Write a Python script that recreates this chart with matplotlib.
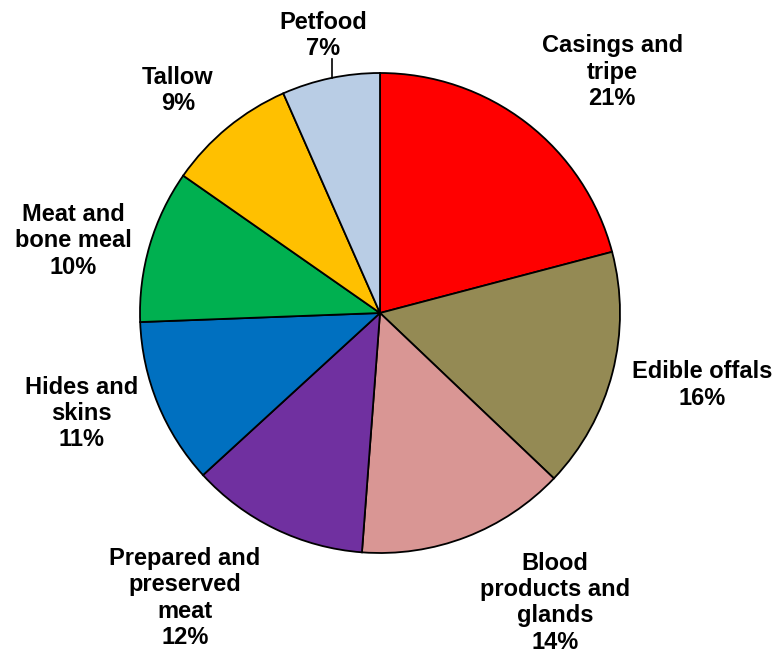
import matplotlib
matplotlib.use('Agg')
import matplotlib.pyplot as plt

plt.rcParams['font.family'] = ['Liberation Sans', 'DejaVu Sans']

# slices, clockwise from 12 o'clock
labels = ['Casings and\ntripe', 'Edible offals', 'Blood\nproducts and\nglands',
          'Prepared and\npreserved\nmeat', 'Hides and\nskins', 'Meat and\nbone meal',
          'Tallow', 'Petfood']
shares = [20.9, 16.2, 14.1, 12.0, 11.2, 10.3, 8.7, 6.6]
colors = ['#FF0000', '#948A54', '#D99694', '#7030A0', '#0070C0', '#00B050',
          '#FFC000', '#B9CDE5']

# label centres, in units of the pie radius
label_pos = [(0.967, 1.004), (1.342, -0.30), (0.729, -1.208), (-0.8125, -1.1875),
             (-1.242, -0.417), (-1.279, 0.30), (-0.842, 0.929), (-0.2375, 1.158)]

fig = plt.figure(figsize=(7.78, 6.57), dpi=100)
ax = fig.add_axes([0, 0, 1, 1])

ax.pie(shares, colors=colors, startangle=90, counterclock=False, radius=1.0,
       wedgeprops=dict(edgecolor='black', linewidth=1.3))

for lab, val, (x, y) in zip(labels, shares, label_pos):
    ax.text(x, y, '%s\n%d%%' % (lab, round(val)), ha='center', va='center',
            fontsize=17, fontweight='bold', linespacing=1.17)

# leader line for Petfood
ax.plot([-0.201, -0.201], [1.058, 0.98], color='black', lw=1.2)

ax.set_xlim(-380 / 240, (778 - 380) / 240)
ax.set_ylim(-(657 - 313) / 240, 313 / 240)
ax.set_aspect('equal')
ax.axis('off')

fig.savefig('out.png', dpi=100)
